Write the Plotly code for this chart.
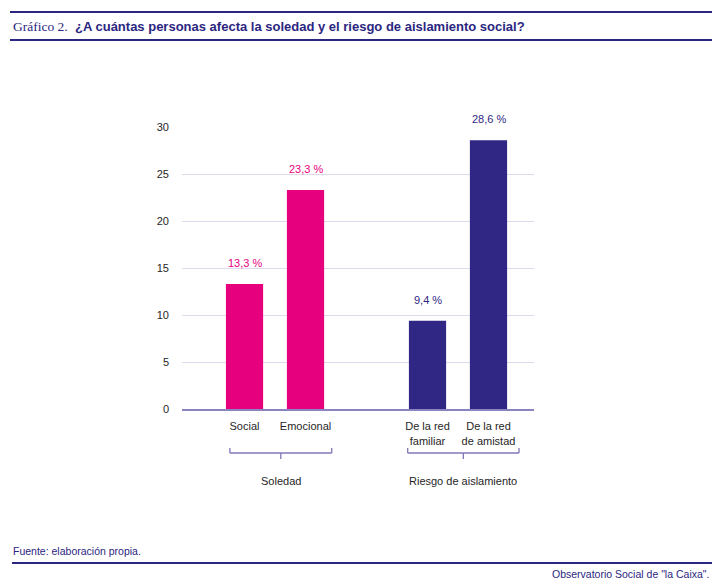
import plotly.graph_objects as go

# datos
categorias = ["Social", "Emocional", " ", "De la red<br>familiar", "De la red<br>de amistad"]
valores = [13.3, 23.3, None, 9.4, 28.6]
etiquetas = ["13,3 %", "23,3 %", "", "9,4 %", "28,6 %"]
grupos = ["Soledad", "Riesgo de aislamiento"]
yticks = [0, 5, 10, 15, 20, 25, 30]

ROSA = "#e6007e"
AZUL = "#302683"
colores = [ROSA, ROSA, ROSA, AZUL, AZUL]
W, H = 720, 585
OFF = 8  # margen del body de la pagina
FONT = "Liberation Sans"
TXT = "#262626"

fig = go.Figure()
fig.add_trace(go.Bar(
    x=categorias, y=valores,
    marker_color=colores, marker_line_width=0,
    hoverinfo="skip",
))

# etiquetas encima de las barras
for c, v, t, col in zip(categorias, valores, etiquetas, colores):
    if v is None:
        continue
    fig.add_annotation(x=c, y=v, text=t, showarrow=False, yshift=21, yanchor="middle",
                       font=dict(family=FONT, size=11, color=col))

def px(x):
    return (x - OFF) / W

def py(y):
    return 1 - (y - OFF) / H

# llaves bajo las categorias (x en indices de categoria)
llaves = [(-0.24, 1.43), (2.675, 4.5)]
linea = dict(color="#7f78b8", width=1.3)
for (a, b), g in zip(llaves, grupos):
    m = (a + b) / 2
    fig.add_shape(type="line", xref="x", yref="paper", x0=a, x1=b, y0=py(453), y1=py(453), line=linea)
    fig.add_shape(type="line", xref="x", yref="paper", x0=a, x1=a, y0=py(448), y1=py(453), line=linea)
    fig.add_shape(type="line", xref="x", yref="paper", x0=b, x1=b, y0=py(448), y1=py(453), line=linea)
    fig.add_shape(type="line", xref="x", yref="paper", x0=m, x1=m, y0=py(453), y1=py(459), line=linea)
    fig.add_annotation(xref="x", yref="paper", x=m, y=py(481), text=g, showarrow=False,
                       xanchor="center", yanchor="middle",
                       font=dict(family=FONT, size=11, color=TXT))

# lineas de cabecera y pie
azul_linea = dict(color="#2b2680", width=2)
for yy in (12, 40):
    fig.add_shape(type="line", xref="paper", yref="paper", x0=px(10), x1=px(712),
                  y0=py(yy), y1=py(yy), line=azul_linea)
fig.add_shape(type="line", xref="paper", yref="paper", x0=px(12), x1=px(712),
              y0=py(563), y1=py(563), line=azul_linea)

fig.add_annotation(xref="paper", yref="paper", x=px(11), y=py(27), xanchor="left", yanchor="middle",
                   text="Gráfico 2.", showarrow=False,
                   font=dict(family="Liberation Serif", size=13.5, color="#2b2680"))
fig.add_annotation(xref="paper", yref="paper", x=px(73), y=py(27), xanchor="left", yanchor="middle",
                   text="<b>¿A cuántas personas afecta la soledad y el riesgo de aislamiento social?</b>",
                   showarrow=False, font=dict(family=FONT, size=13, color="#2b2680"))
fig.add_annotation(xref="paper", yref="paper", x=px(11), y=py(551), xanchor="left", yanchor="middle",
                   text="Fuente: elaboración propia.", showarrow=False,
                   font=dict(family=FONT, size=10.5, color="#2b2680"))
fig.add_annotation(xref="paper", yref="paper", x=px(711), y=py(574), xanchor="right", yanchor="middle",
                   text="Observatorio Social de \"la Caixa\".", showarrow=False,
                   font=dict(family=FONT, size=10.5, color="#2b2680"))

fig.update_layout(
    width=W, height=H,
    margin=dict(l=0, r=0, t=0, b=0),
    paper_bgcolor="white", plot_bgcolor="white",
    showlegend=False, bargap=0.39,
    font=dict(family=FONT, size=11, color=TXT),
    xaxis=dict(domain=[px(182), px(534)], type="category", categoryarray=categorias,
               range=[-1.025, 4.746], showgrid=False, showline=True, linecolor="#8a84c0",
               linewidth=2, ticks="", ticklabelstandoff=6, automargin=False,
               tickfont=dict(family=FONT, size=11, color=TXT)),
    yaxis=dict(domain=[py(409), py(127)], range=[0, 30], tickvals=yticks,
               showgrid=True, gridcolor="#dcdaec", gridwidth=1, zeroline=False,
               showline=False, ticks="", ticklabelstandoff=12, automargin=False,
               tickfont=dict(family=FONT, size=11, color=TXT)),
)

fig.write_html("out.html")
